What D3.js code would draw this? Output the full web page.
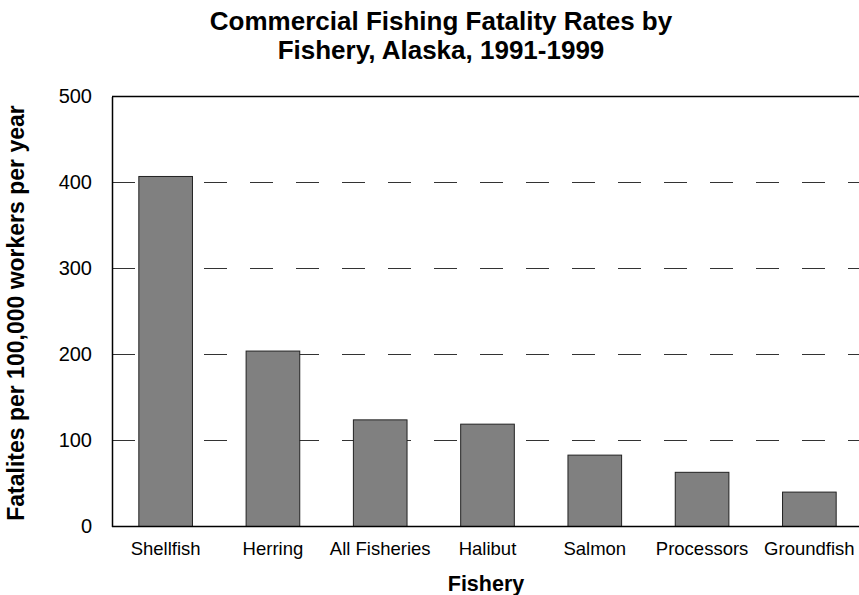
<!DOCTYPE html>
<html>
<head>
<meta charset="utf-8">
<script src="https://cdn.jsdelivr.net/npm/d3@7"></script>
<style>
  body { margin: 0; background: #fff; }
  text { font-family: "Liberation Sans", Arial, sans-serif; fill: #000; }
</style>
</head>
<body>
<div id="chart"></div>
<script>
const fisheries = ['Shellfish', 'Herring', 'All Fisheries', 'Halibut', 'Salmon', 'Processors', 'Groundfish']
const rates = [407, 204, 124, 119, 83, 63, 40]
const yTicks = [0, 100, 200, 300, 400, 500]
const gridTicks = [100, 200, 300, 400]

const data = fisheries.map((f, i) => ({ name: f, rate: rates[i] }))

function drawChart() {
  let width = 859, height = 595
  let left = 112, right = 863, top = 96.5, bottom = 526.5

  let svg = d3.select('#chart')
    .append('svg')
    .attr('width', width)
    .attr('height', height)

  let xScale = d3.scaleBand()
    .domain(fisheries)
    .range([left, right])
    .paddingInner(0.5)
    .paddingOuter(0.25)

  let yScale = d3.scaleLinear()
    .domain([0, 500])
    .range([bottom, top])

  // dashed gridlines, drawn before the bars
  svg.append('g')
    .selectAll('line')
    .data(gridTicks)
    .enter()
    .append('line')
    .attr('x1', left)
    .attr('x2', width)
    .attr('y1', d => yScale(d))
    .attr('y2', d => yScale(d))
    .attr('stroke', '#333')
    .attr('stroke-width', 1)
    .attr('stroke-dasharray', '23,23')

  svg.append('g')
    .selectAll('rect')
    .data(data)
    .enter()
    .append('rect')
    .attr('x', d => xScale(d.name))
    .attr('width', xScale.bandwidth())
    .attr('y', d => yScale(d.rate))
    .attr('height', d => yScale(0) - yScale(d.rate))
    .attr('fill', '#808080')
    .attr('stroke', '#222')
    .attr('stroke-width', 1)

  let yAxis = d3.axisLeft(yScale)
    .tickValues(yTicks)
    .tickSize(0)
    .tickPadding(20)

  let yg = svg.append('g')
    .attr('transform', `translate(${left},0)`)
    .call(yAxis)
  yg.select('.domain').attr('stroke', '#000').attr('stroke-width', 1.5)
  yg.selectAll('text')
    .style('font-size', '20px')
    .attr('fill', '#000')

  // top border
  svg.append('line')
    .attr('x1', left).attr('x2', width)
    .attr('y1', top).attr('y2', top)
    .attr('stroke', '#000').attr('stroke-width', 1.5)

  let xAxis = d3.axisBottom(xScale)
    .tickSize(0)
    .tickPadding(15)

  let xg = svg.append('g')
    .attr('transform', `translate(0,${bottom})`)
    .call(xAxis)
  xg.select('.domain').attr('stroke', '#000').attr('stroke-width', 1.5)
    .attr('d', `M${left},0H${width}`)
  xg.selectAll('text')
    .style('font-size', '18.5px')
    .attr('fill', '#000')

  // titles
  let title = svg.append('text')
    .attr('text-anchor', 'middle')
    .style('font-size', '26px')
    .style('font-weight', 'bold')
  title.append('tspan').attr('x', 441).attr('y', 30).text('Commercial Fishing Fatality Rates by')
  title.append('tspan').attr('x', 441).attr('y', 59).text('Fishery, Alaska, 1991-1999')

  svg.append('text')
    .attr('x', 486)
    .attr('y', 591)
    .attr('text-anchor', 'middle')
    .style('font-size', '21.5px')
    .style('font-weight', 'bold')
    .text('Fishery')

  svg.append('text')
    .attr('transform', 'translate(24,313) rotate(-90)')
    .attr('text-anchor', 'middle')
    .style('font-size', '23px')
    .style('font-weight', 'bold')
    .text('Fatalites per 100,000 workers per year')
}

drawChart()
</script>
</body>
</html>
